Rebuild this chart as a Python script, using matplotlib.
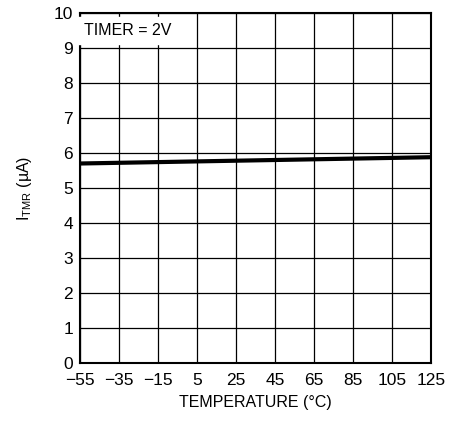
import numpy as np
import matplotlib.pyplot as plt

plt.rcParams['font.family'] = ['Liberation Sans', 'DejaVu Sans']

# data
temp = [-55, -35, -15, 5, 25, 45, 65, 85, 105, 125]
itmr = [5.70, 5.72, 5.74, 5.76, 5.78, 5.80, 5.82, 5.84, 5.86, 5.88]
xticks = [-55, -35, -15, 5, 25, 45, 65, 85, 105, 125]
xlabels = ['\u221255', '\u221235', '\u221215', '5', '25', '45', '65', '85', '105', '125']
yticks = list(range(0, 11))

fig = plt.figure(figsize=(4.53, 4.21), dpi=100)
ax = fig.add_axes([0.1766, 0.1378, 0.7748, 0.8313])

ax.plot(temp, itmr, color='black', linewidth=3.0, zorder=3)

ax.set_xlim(-55, 125)
ax.set_ylim(0, 10)
ax.set_xticks(xticks)
ax.set_xticklabels(xlabels)
ax.set_yticks(yticks)
ax.tick_params(length=0, labelsize=12.5)
ax.tick_params(axis='x', pad=7)
ax.tick_params(axis='y', pad=5)
ax.grid(True, color='black', linewidth=0.9)
for s in ax.spines.values():
    s.set_linewidth(1.5)

ax.set_xlabel('TEMPERATURE (\u00b0C)', fontsize=11.5, labelpad=5)
ax.set_ylabel('I$_{\\mathregular{TMR}}$ (\u00b5A)', fontsize=11.5, labelpad=14)
ax.text(-53, 9.5, 'TIMER = 2V', fontsize=11.5, va='center', ha='left',
        backgroundcolor='white', zorder=4)

plt.savefig('out.png', dpi=100)
